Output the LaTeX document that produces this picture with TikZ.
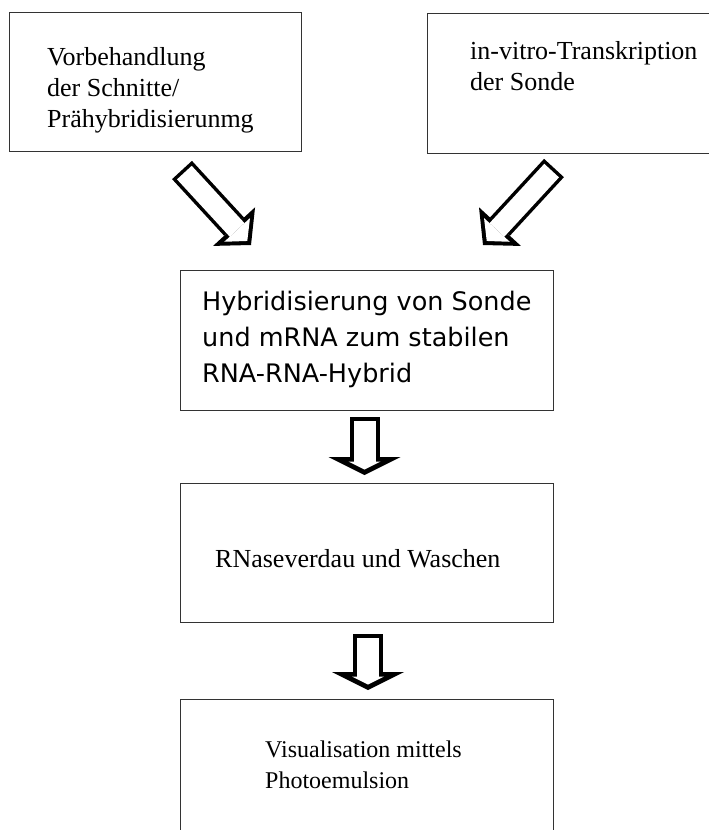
\documentclass[tikz,border=0pt]{standalone}
\usepackage{fontspec}
\setmainfont{Liberation Serif}
\newfontfamily\hybfont{DejaVu Sans}
\usetikzlibrary{arrows.meta,positioning}
\tikzset{
  panel/.style={draw=black!80, line width=1.4pt, anchor=north west, inner sep=0pt},
  serif/.style={font=\fontsize{26}{31}\selectfont, anchor=base west, align=left, inner sep=0pt},
  sans/.style={font=\hybfont\fontsize{25.5}{36}\selectfont, anchor=base west, align=left, inner sep=0pt},
  hollow/.style={draw=white, line width=20pt, shorten <=3.5pt, shorten >=5.5pt,
    -{Triangle[width=35pt, length=15pt, line width=0pt]},
    preaction={draw=black, line width=27pt, shorten <=0pt, shorten >=0pt,
      -{Triangle[width=57pt, length=25pt, line width=0pt]}}},
  hollowdown/.style={draw=white, line width=22pt, shorten <=4pt, shorten >=5.5pt,
    -{Triangle[width=32pt, length=8pt, line width=0pt]},
    preaction={draw=black, line width=30pt, shorten <=0pt, shorten >=0pt,
      -{Triangle[width=72pt, length=18pt, line width=0pt]}}}
}

\begin{document}
\begin{tikzpicture}[x=1pt, y=-1pt]
  \useasboundingbox (0,0) rectangle (709,830);

  % boxes
  \node[panel, minimum width=292, minimum height=139] (vor) at (9,12) {};
  \node[panel, minimum width=300, minimum height=140] (ivt) at (427,13) {};
  \node[panel, minimum width=373, minimum height=140] (hyb) at (180,270) {};
  \node[panel, minimum width=373, minimum height=139] (rnase) at (180,483) {};
  \node[panel, minimum width=373, minimum height=150] (vis) at (180,699) {};

  % texts (anchored at the baseline of their last line)
  \node[serif] (vortext) at (47,127) {Vorbehandlung\\der Schnitte/\\Prähybridisierunmg};
  \node[serif] (ivttext) at (470,90) {in-vitro-Transkription\\der Sonde};
  \node[sans] (hybtext) at (202,382) {Hybridisierung von Sonde\\und mRNA zum stabilen\\RNA-RNA-Hybrid};
  \node[serif] (rnasetext) at (215,567) {RNaseverdau und Waschen};
  \node[serif, font=\fontsize{24}{31}\selectfont] (vistext) at (265,788) {Visualisation mittels\\Photoemulsion};

  % block arrows
  \coordinate (vorout) at (182,170);
  \coordinate (hybinl) at (251,245);
  \coordinate (ivtout) at (554,168);
  \coordinate (hybinr) at (483,245);
  \coordinate (hybout) at (364.5,417);
  \coordinate (rnasein) at (364.5,475);
  \coordinate (rnaseout) at (368,634);
  \coordinate (visin) at (368,690);

  \draw[hollow] (vorout) -- (hybinl);
  \draw[hollow] (ivtout) -- (hybinr);
  \draw[hollowdown] (hybout) -- (rnasein);
  \draw[hollowdown] (rnaseout) -- (visin);
\end{tikzpicture}
\end{document}
